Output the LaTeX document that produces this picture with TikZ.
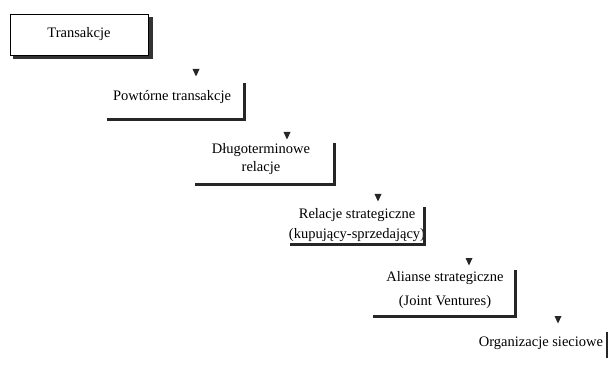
\documentclass[tikz,border=0pt]{standalone}
\usepackage{fontspec}
\setmainfont{Liberation Serif}
\begin{document}
\begin{tikzpicture}[x=1pt,y=-1pt,
  lbl/.style={font=\fontsize{14.5}{20}\selectfont, align=center, inner sep=0pt},
  stepline/.style={line width=2.6pt, color=black!85, line cap=butt},
  tri/.style={fill=black!85, draw=none}]
\useasboundingbox (0,0) rectangle (610,366);
% box 1 with shadow
\fill[black!80] (13,17) rectangle (153,59);
\draw[fill=white, line width=0.6pt] (10,14) rectangle (148,55);
\node[lbl] (t1) at (79,34) {Transakcje};
% marker helper
\newcommand{\mymarker}[2]{\fill[tri] (#1-3.5,#2-4) -- (#1+3.5,#2-4) -- (#1,#2+3.5) -- cycle;}
% step 2
\mymarker{196}{73}
\node[lbl] (t2) at (172,97) {Powtórne transakcje};
\draw[stepline] (107,119.5) -- (244.5,119.5) -- (244.5,83);
% step 3
\mymarker{287}{136}
\node[lbl, font=\fontsize{14.5}{18}\selectfont] (t3) at (261,159) {Długoterminowe\\relacje};
\draw[stepline] (195,184.5) -- (334.5,184.5) -- (334.5,143);
% step 4
\mymarker{378}{198}
\node[lbl] (t4) at (357,225) {Relacje strategiczne\\(kupujący-sprzedający)};
\draw[stepline] (290,244.5) -- (424.5,244.5) -- (424.5,207);
% step 5
\mymarker{469}{262}
\node[lbl, font=\fontsize{14.5}{24}\selectfont] (t5) at (445,290) {Alianse strategiczne\\(Joint Ventures)};
\draw[stepline] (373,316.5) -- (515.5,316.5) -- (515.5,270);
% step 6
\mymarker{558}{320}
\node[lbl] (t6) at (541,343) {Organizacje sieciowe};
\draw[stepline] (607,332) -- (607,358);
\end{tikzpicture}
\end{document}
